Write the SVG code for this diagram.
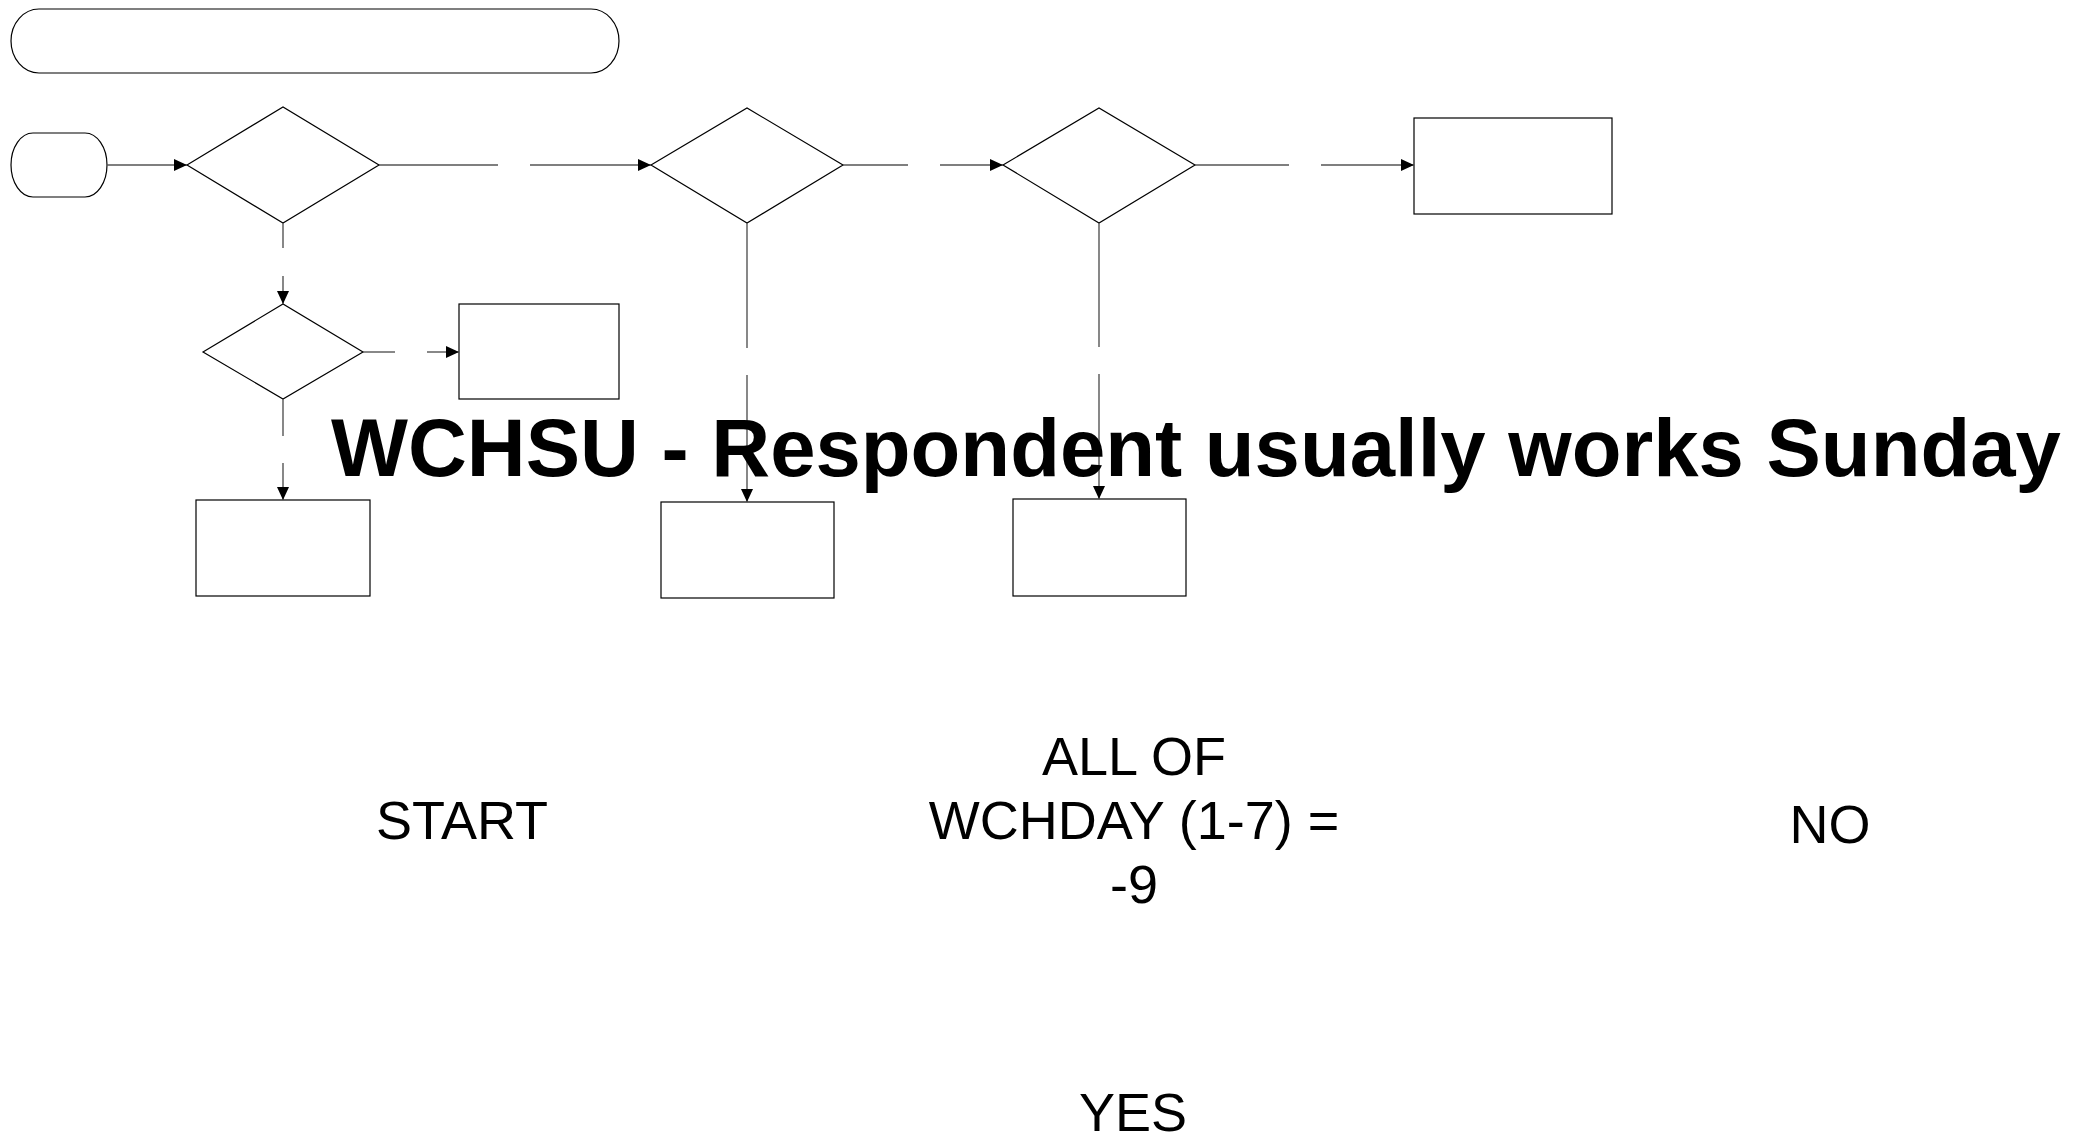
<svg xmlns="http://www.w3.org/2000/svg" width="2076" height="1138" viewBox="0 0 2076 1138">
<style>
.shape{fill:#fff;stroke:#000;stroke-width:1.2}
.conn{fill:none;stroke:#555;stroke-width:1.4}
.lbl{font-family:"Liberation Sans",Arial,sans-serif;font-size:54px;fill:#000;text-anchor:middle}
.title{font-family:"Liberation Sans",Arial,sans-serif;font-size:81.5px;font-weight:bold;fill:#000}
</style>
<defs>
<marker id="arr" markerUnits="userSpaceOnUse" markerWidth="14" markerHeight="12" refX="13" refY="6" orient="auto">
<path d="M0,0 L13,6 L0,12 Z" fill="#000"/>
</marker>
</defs>
<rect width="2076" height="1138" fill="#fff"/>
<g id="banner"><rect class="shape" x="11" y="9" width="608" height="64" rx="28" ry="32"/></g>
<g id="start"><rect class="shape" x="11" y="133" width="96" height="64" rx="22" ry="32"/></g>
<g id="d1"><polygon class="shape" points="187,165 283,107 379,165 283,223"/></g>
<g id="d2"><polygon class="shape" points="203,352 283,304 363,352 283,399"/></g>
<g id="d3"><polygon class="shape" points="651,165 747,108 843,165 747,223"/></g>
<g id="d4"><polygon class="shape" points="1003,165 1099,108 1195,165 1099,223"/></g>
<g id="box-right"><rect class="shape" x="1414" y="118" width="198" height="96"/></g>
<g id="box-d2"><rect class="shape" x="459" y="304" width="160" height="95"/></g>
<g id="box-b1"><rect class="shape" x="196" y="500" width="174" height="96"/></g>
<g id="box-b2"><rect class="shape" x="661" y="502" width="173" height="96"/></g>
<g id="box-b3"><rect class="shape" x="1013" y="499" width="173" height="97"/></g>
<g id="connectors">
<line class="conn" x1="107" y1="165" x2="187" y2="165" marker-end="url(#arr)"/>
<line class="conn" x1="379" y1="165" x2="498" y2="165"/>
<line class="conn" x1="530" y1="165" x2="651" y2="165" marker-end="url(#arr)"/>
<line class="conn" x1="283" y1="223" x2="283" y2="248"/>
<line class="conn" x1="283" y1="276" x2="283" y2="304" marker-end="url(#arr)"/>
<line class="conn" x1="363" y1="352" x2="395" y2="352"/>
<line class="conn" x1="427" y1="352" x2="459" y2="352" marker-end="url(#arr)"/>
<line class="conn" x1="283" y1="399" x2="283" y2="436"/>
<line class="conn" x1="283" y1="463" x2="283" y2="500" marker-end="url(#arr)"/>
<line class="conn" x1="843" y1="165" x2="908" y2="165"/>
<line class="conn" x1="940" y1="165" x2="1003" y2="165" marker-end="url(#arr)"/>
<line class="conn" x1="747" y1="223" x2="747" y2="348"/>
<line class="conn" x1="747" y1="375" x2="747" y2="502" marker-end="url(#arr)"/>
<line class="conn" x1="1195" y1="165" x2="1289" y2="165"/>
<line class="conn" x1="1321" y1="165" x2="1414" y2="165" marker-end="url(#arr)"/>
<line class="conn" x1="1099" y1="223" x2="1099" y2="347"/>
<line class="conn" x1="1099" y1="374" x2="1099" y2="499" marker-end="url(#arr)"/>
</g>
<g id="labels">
<text class="title" x="331" y="476">WCHSU - Respondent usually works Sunday</text>
<text class="lbl" x="462" y="839">START</text>
<text class="lbl" x="1134" y="775">ALL OF</text>
<text class="lbl" x="1134" y="839">WCHDAY (1-7) =</text>
<text class="lbl" x="1134" y="903">-9</text>
<text class="lbl" x="1830" y="843">NO</text>
<text class="lbl" x="1133" y="1131">YES</text>
</g>
</svg>
